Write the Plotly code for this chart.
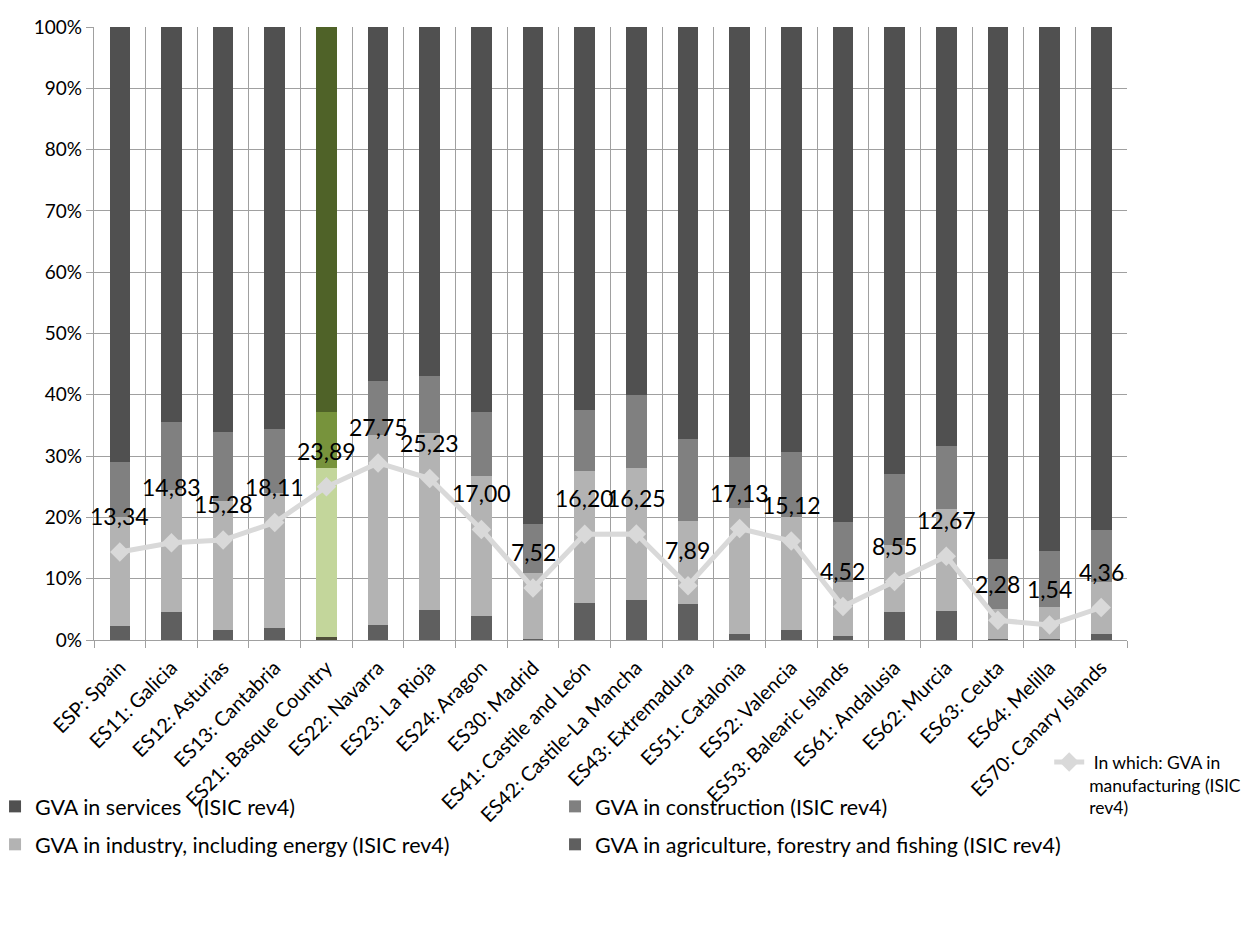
import plotly.graph_objects as go

regions = ["ESP: Spain", "ES11: Galicia", "ES12: Asturias", "ES13: Cantabria",
           "ES21: Basque Country", "ES22: Navarra", "ES23: La Rioja", "ES24: Aragon",
           "ES30: Madrid", "ES41: Castile and León", "ES42: Castile-La Mancha",
           "ES43: Extremadura", "ES51: Catalonia", "ES52: Valencia",
           "ES53: Balearic Islands", "ES61: Andalusia", "ES62: Murcia", "ES63: Ceuta",
           "ES64: Melilla", "ES70: Canary Islands"]

agriculture = [2.3, 4.5, 1.6, 1.9, 0.5, 2.5, 4.9, 3.9, 0.1, 6.1, 6.5, 5.9, 1.0, 1.7, 0.7, 4.5, 4.7, 0.1, 0.1, 1.0]
industry = [17.7, 20.0, 21.0, 22.1, 27.6, 31.0, 28.8, 22.8, 10.9, 21.5, 21.5, 13.5, 20.6, 18.3, 8.7, 11.0, 16.6, 4.9, 5.3, 8.5]
construction = [9.1, 11.0, 11.3, 10.5, 9.1, 8.8, 9.4, 10.5, 7.9, 10.0, 12.0, 13.4, 8.2, 10.7, 9.8, 11.6, 10.4, 8.2, 9.1, 8.5]
services = [70.9, 64.5, 66.1, 65.5, 62.8, 57.7, 56.9, 62.8, 81.1, 62.4, 60.0, 67.2, 70.2, 69.3, 80.8, 72.9, 68.3, 86.8, 85.5, 82.0]
manufacturing = [13.34, 14.83, 15.28, 18.11, 23.89, 27.75, 25.23, 17.00, 7.52, 16.20, 16.25, 7.89,
                 17.13, 15.12, 4.52, 8.55, 12.67, 2.28, 1.54, 4.36]

FONT = "Lato"
HIGHLIGHT = "ES21: Basque Country"


def colours(grey, green):
    return [green if r == HIGHLIGHT else grey for r in regions]


fig = go.Figure()
# (name, values, grey colour, highlight colour, legend, rank)
series = [
    ("GVA in agriculture, forestry and fishing (ISIC rev4)", agriculture, "#5F5F5F", "#4F4F3A", "legend3", 2),
    ("GVA in industry, including energy (ISIC rev4)", industry, "#B3B3B3", "#C3D69B", "legend", 2),
    ("GVA in construction (ISIC rev4)", construction, "#808080", "#77933C", "legend3", 1),
    ("GVA in services   (ISIC rev4)", services, "#505050", "#4F6228", "legend", 1),
]
for name, vals, grey, green, leg, rank in series:
    fig.add_trace(go.Bar(x=regions, y=vals, name=name, legendrank=rank, legendgroup=name,
                         marker=dict(color=colours(grey, green), line_width=0),
                         legend=leg))

fig.add_trace(go.Scatter(
    x=regions, y=manufacturing, yaxis="y2", mode="lines+markers",
    name=" In which: GVA in<br>manufacturing (ISIC<br>rev4)",
    line=dict(color="#D9D9D9", width=5),
    marker=dict(symbol="diamond", size=15, color="#D9D9D9"),
    legend="legend2"))

for r, v in zip(regions, manufacturing):
    fig.add_annotation(x=r, y=v, xref="x", yref="y2", yshift=56 if r == "ES11: Galicia" else 36,
                       text=f"{v:.2f}".replace(".", ","), showarrow=False,
                       font=dict(family=FONT, size=23, color="black"))

grid = "#A0A0A0"
legend_common = dict(orientation="v", xanchor="left", yanchor="top", traceorder="grouped",
                     font=dict(size=21.5), bgcolor="rgba(0,0,0,0)", tracegroupgap=7)
fig.update_layout(
    width=1244, height=930,
    margin=dict(l=86, r=125, t=19, b=298, autoexpand=False),
    paper_bgcolor="white", plot_bgcolor="white",
    barmode="stack", bargap=0.6,
    font=dict(family=FONT, size=19, color="black"),
    xaxis=dict(type="category", range=[-0.5, 19.5], tickson="boundaries", showgrid=True,
               gridcolor=grid, gridwidth=1.3, ticks="outside", ticklen=7, tickcolor=grid,
               showline=True, linecolor=grid, linewidth=1.3, tickangle=-45,
               tickfont=dict(size=20), automargin=False, ticklabelstandoff=7),
    yaxis=dict(range=[0, 100], dtick=10, ticksuffix="%", showgrid=True, gridcolor=grid,
               gridwidth=1.3, ticks="outside", ticklen=7, tickcolor=grid,
               showline=True, linecolor=grid, linewidth=1.3, tickfont=dict(size=19),
               automargin=False, zeroline=False),
    yaxis2=dict(overlaying="y", range=[-0.9, 98.3], visible=False),
    legend=dict(x=-0.0958, y=-0.238, **legend_common),
    legend3=dict(x=0.4463, y=-0.238, **legend_common),
    legend2=dict(x=0.9247, xanchor="left", y=-0.17, yanchor="top", valign="top",
                 font=dict(size=17.5), bgcolor="rgba(0,0,0,0)"),
    showlegend=True,
)

fig.write_html("out.html")
